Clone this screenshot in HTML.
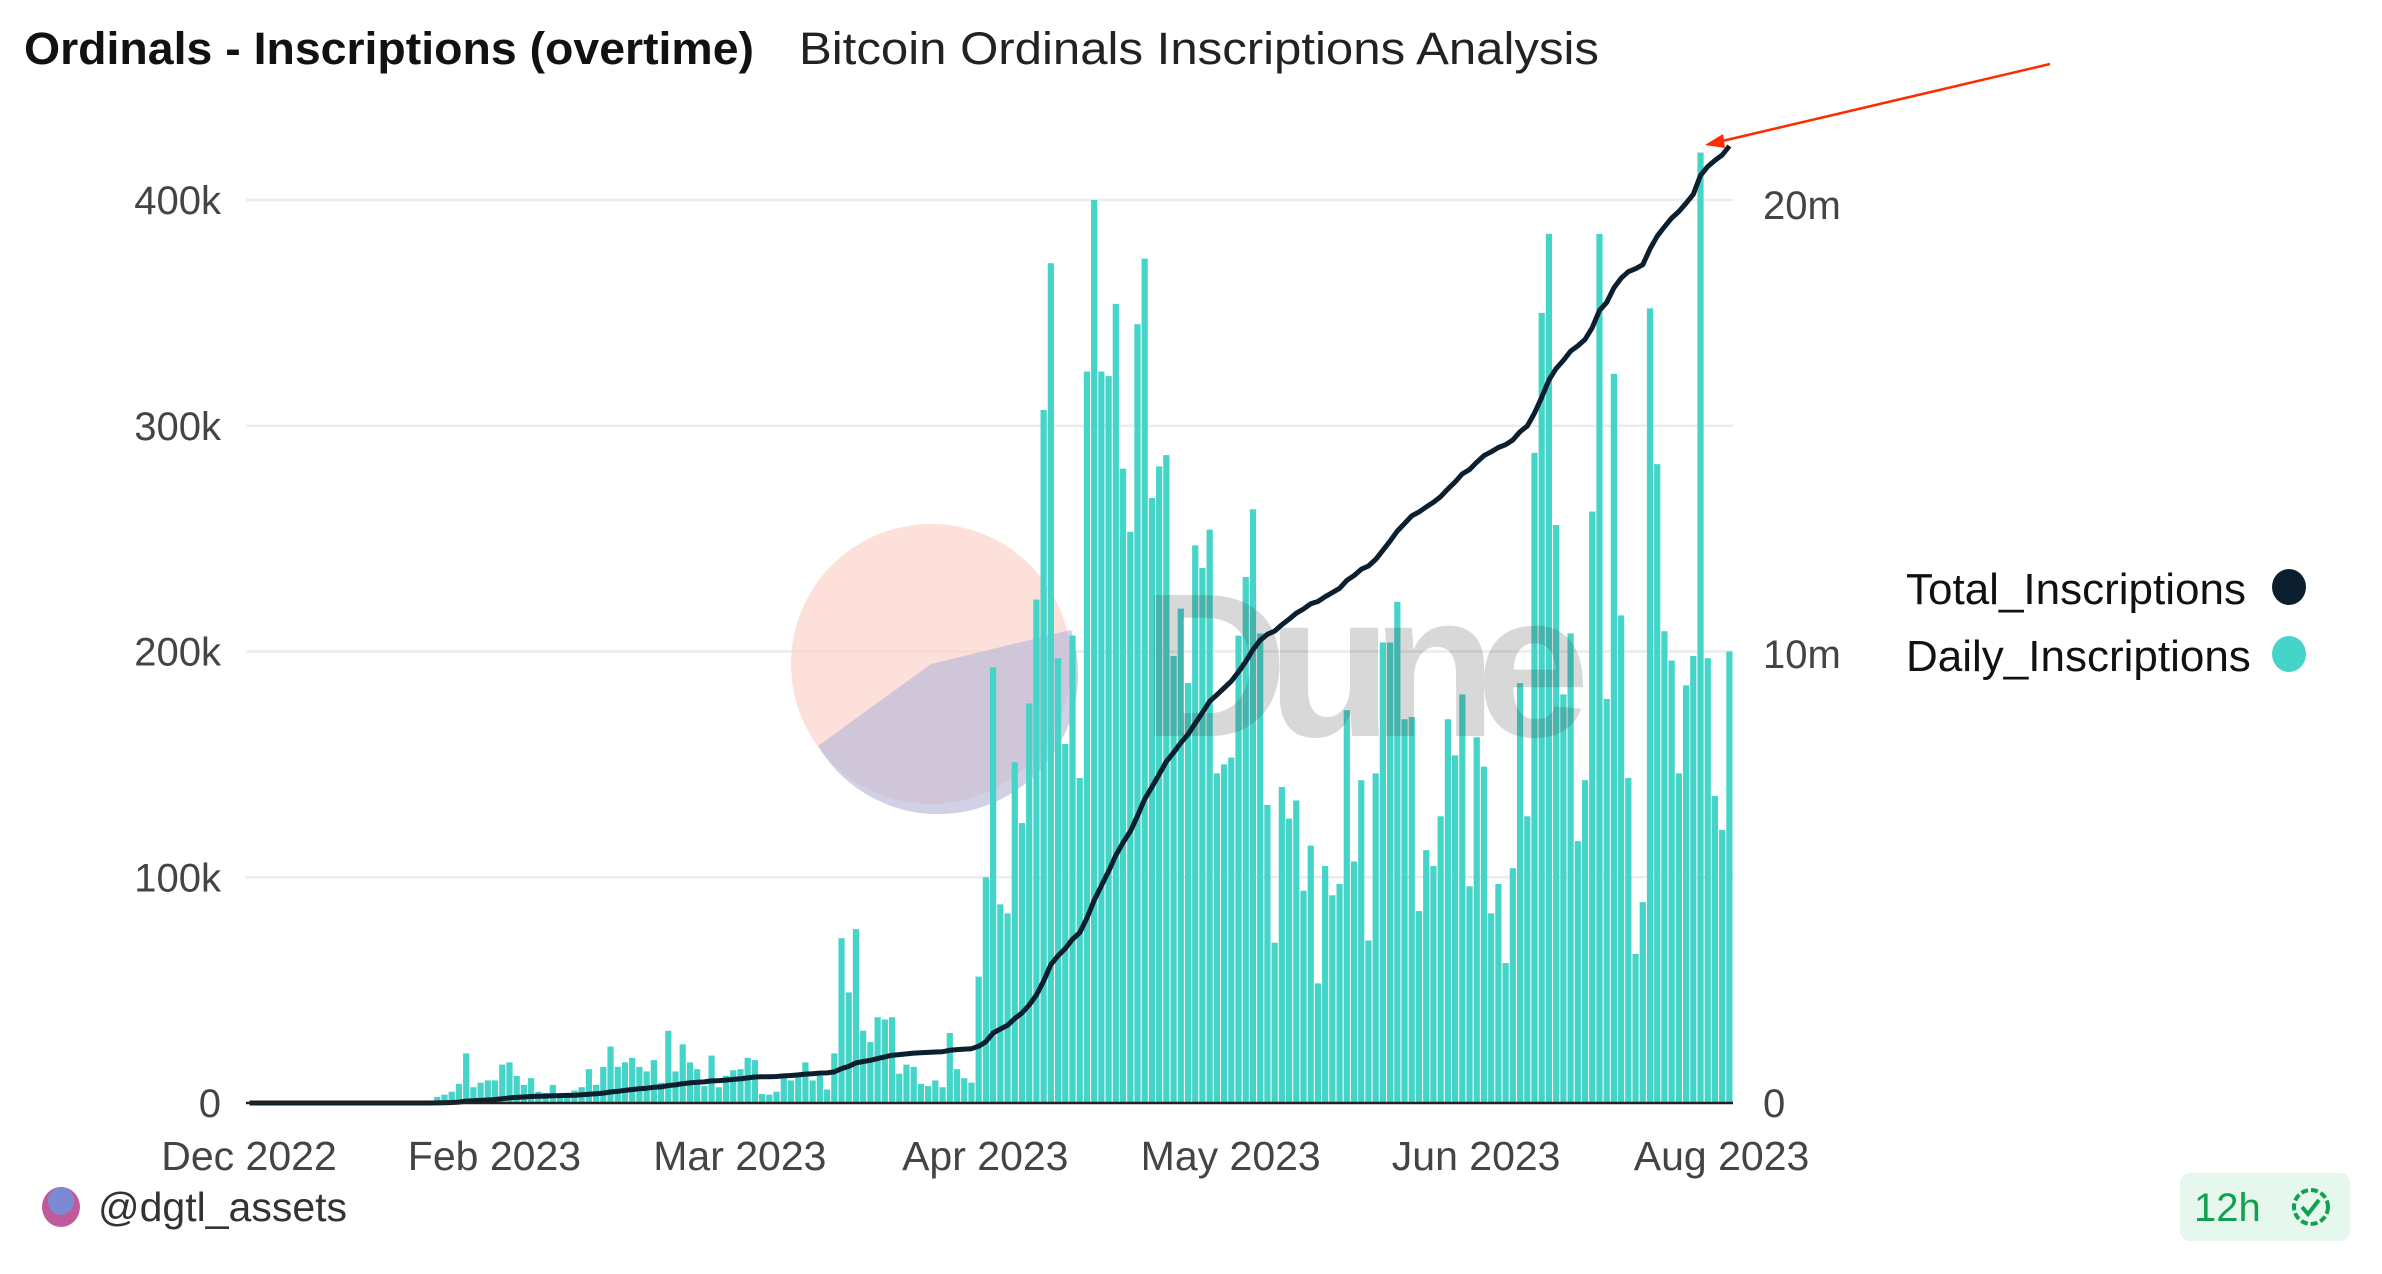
<!DOCTYPE html>
<html><head><meta charset="utf-8"><style>
html,body{margin:0;padding:0;background:#fff;}
svg{display:block;font-family:"Liberation Sans",sans-serif;}
</style></head><body>
<svg id="chart" width="2382" height="1274" viewBox="0 0 2382 1274">
<text x="24" y="64" font-size="45" font-weight="bold" fill="#111" textLength="730" lengthAdjust="spacingAndGlyphs">Ordinals - Inscriptions (overtime)</text>
<text x="799" y="64" font-size="45" fill="#222" textLength="800" lengthAdjust="spacingAndGlyphs">Bitcoin Ordinals Inscriptions Analysis</text>
<g id="grid"></g>
<g id="watermark-circle">
  <circle cx="931" cy="664" r="140" fill="#fbd0c4" opacity="0.65"/>
  <path d="M931,664 L1071,630 A140,140 0 0 1 818,746 Z" fill="#b8b8d8" opacity="0.65"/>
</g>
<g id="bars"></g>
<text x="1140" y="736" font-size="205" font-weight="bold" fill="rgba(60,60,60,0.2)" textLength="450">Dune</text>
<path id="line" fill="none" stroke="#0b1f2e" stroke-width="5" stroke-linejoin="round"/>
<line x1="246" y1="1103" x2="1733" y2="1103" stroke="#222" stroke-width="2.5"/>
<g id="yleft" font-size="40" fill="#444" text-anchor="end"></g>
<g id="yright" font-size="40" fill="#444"></g>
<g id="xaxis" font-size="41" fill="#444" text-anchor="middle"></g>
<g>
  <svg x="1906" y="555" width="347" height="130" overflow="hidden">
    <text x="0" y="49" font-size="44" fill="#111">Total_Inscriptions</text>
    <text x="0" y="116" font-size="44" fill="#111">Daily_Inscriptions</text>
  </svg>
  <ellipse cx="2289" cy="587" rx="17" ry="18" fill="#0b1f2e"/>
  <ellipse cx="2289" cy="654" rx="17" ry="18" fill="#45d4c8"/>
</g>
<g>
  <line x1="2050" y1="64" x2="1718" y2="142" stroke="#ff2a00" stroke-width="2.5"/>
  <polygon points="1705,145 1723,134 1725,148" fill="#ff2a00"/>
</g>
<g>
  <ellipse cx="61" cy="1207" rx="19" ry="20" fill="#c05a9a"/>
  <ellipse cx="61" cy="1201" rx="13" ry="14" fill="#7c8ad6"/>
  <text x="98" y="1221" font-size="41" fill="#333">@dgtl_assets</text>
</g>
<g>
  <rect x="2180" y="1173" width="170" height="68" rx="10" fill="#e6f7ed"/>
  <text x="2194" y="1221" font-size="40" fill="#12a150">12h</text>
  <circle cx="2311" cy="1207" r="17" fill="none" stroke="#12a150" stroke-width="4" stroke-dasharray="7 3"/>
  <path d="M2302,1207 l6,7 l11,-14" fill="none" stroke="#12a150" stroke-width="4"/>
</g>
</svg>
<script>
const leadingZeros = 26;
const dailyK = [2.7,3.7,5,8.5,22,7,9,10,10,17,18,12,8,11,5,4.5,8,3.7,4,5.5,
7,15,8,16,25,16,18,20,16,14,19,9,32,14,26,18,15,7.5,21,7,
12,14.5,15,20,19,4,3.7,5,12,10,12,18,10,12,6,22,73,49,77,32,
27,38,37,38,13,17,16,8.5,7.5,10,7,31,15,11,9,56,
100,193,88,84,151,124,177,223,307,372,197,159,207,144,324,400,324,322,354,281,
253,345,374,268,282,287,198,219,186,247,237,254,146,150,153,207,233,263,208,132,
71,140,126,134,94,114,53,105,92,97,
174,107,143,72,146,204,204,222,170,171,85,112,105,127,170,154,181,96,162,149,
84,97,62,104,186,127,288,350,385,256,181,208,116,143,262,385,179,323,216,144,
66,89,352,283,209,196,146,185,198,421,197,136,121,200];
const leftTicks = [0,100,200,300,400];
const leftTickLabels = ["0","100k","200k","300k","400k"];
const rightTicks = [0,10,20];
const rightTickLabels = ["0","10m","20m"];
const xTickIdx = [0,34,68,102,136,170,204];
const xTickLabels = ["Dec 2022","Feb 2023","Mar 2023","Apr 2023","May 2023","Jun 2023","Aug 2023"];

const NS="http://www.w3.org/2000/svg";
const daily = new Array(leadingZeros).fill(0).concat(dailyK);
const N = daily.length;
const x0=246, x1=1733, yBase=1103;
const step=(x1-x0)/N;
const yL = v => yBase - v*(yBase-200)/400;
const yR = m => yBase - m*(yBase-205)/20;
const xC = i => x0 + (i+0.5)*step;

function mk(tag, parent, attrs){const e=document.createElementNS(NS,tag);for(const k in attrs)e.setAttribute(k,attrs[k]);parent.appendChild(e);return e;}
const grid=document.getElementById('grid');
leftTicks.forEach((t,i)=>{
  if(i>0){const l=mk('line',grid,{x1:x0,x2:x1,y1:yL(t),y2:yL(t),stroke:'#ececec','stroke-width':2.5});
  
  }
  const tx=mk('text',document.getElementById('yleft'),{x:221,y:yL(t)+14});
  tx.textContent=leftTickLabels[i];
  
  
});
rightTicks.forEach((t,i)=>{
  const tx=mk('text',document.getElementById('yright'),{x:1763,y:yR(t)+14});
  tx.textContent=rightTickLabels[i];
  
  
});
xTickIdx.forEach((idx,i)=>{
  const tx=mk('text',document.getElementById('xaxis'),{x:x0+3+idx*step,y:1170});
  tx.textContent=xTickLabels[i];
  
  
});
const bars=document.getElementById('bars');
daily.forEach((v,i)=>{
  if(v<=0)return;
  const r=mk('rect',bars,{x:xC(i)-step*0.43,y:yL(v),width:step*0.86,height:yBase-yL(v),fill:'#45d4c8'});
  
  
});
let cum=0, d='';
daily.forEach((v,i)=>{cum+=v/1000; d+=(i?'L':'M')+xC(i).toFixed(1)+','+yR(cum).toFixed(1);});
document.getElementById('line').setAttribute('d',d);
</script>
</body></html>
